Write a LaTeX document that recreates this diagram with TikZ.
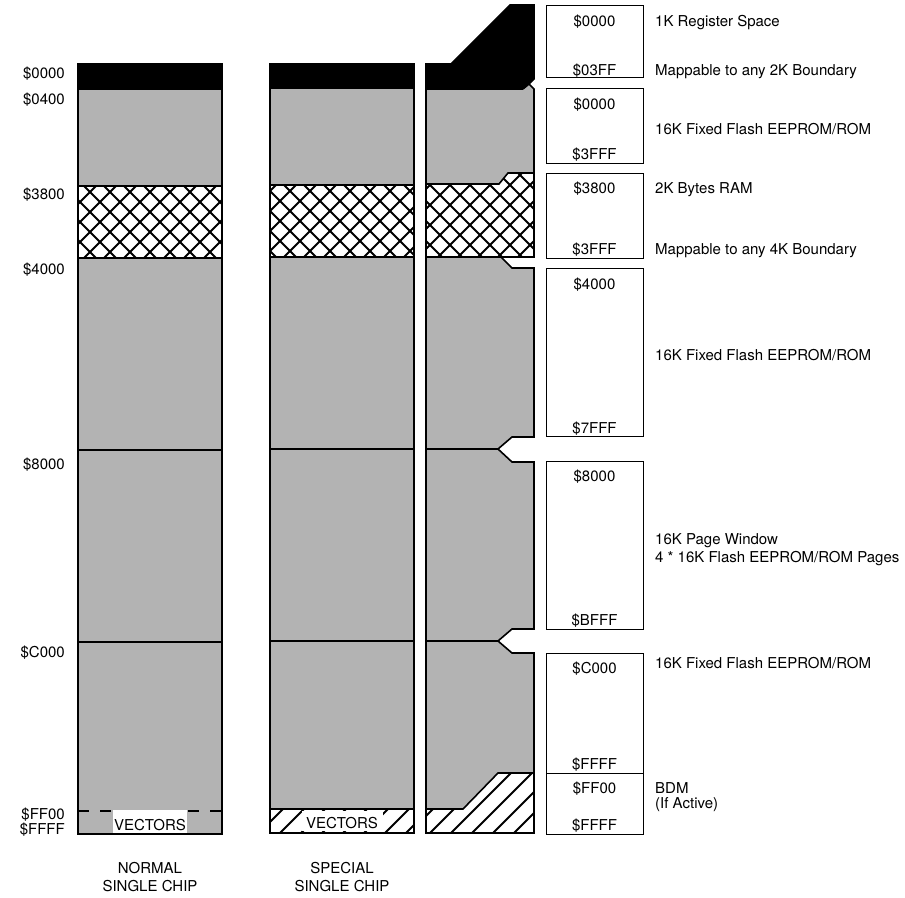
\documentclass[tikz,border=0pt]{standalone}
\usepackage{fontspec}
\setmainfont{TeX Gyre Heros}
\definecolor{memgray}{RGB}{179,179,179}
\newcommand\xhatchlines[1]{%
  \foreach \k in {40,60,...,620}{%
    \draw[hl] (\k-100,#1-100) -- (\k+100,#1+100);
    \draw[hl] (\k+100,#1-100) -- (\k-100,#1+100);}}
\newcommand\dhatchlines[1]{%
  \foreach \k in {40,61,...,640}{%
    \draw[hl] (\k+100,#1-100) -- (\k-100,#1+100);}}
\begin{document}
\begin{tikzpicture}[x=1pt,y=-1pt,
  font=\fontsize{15}{17}\selectfont,
  hl/.style={line width=1.9pt},
  sep/.style={line width=1.8pt},
  colborder/.style={line width=2.2pt},
  thinb/.style={line width=1.6pt, line join=miter},
  dashline/.style={line width=1.8pt, dash pattern=on 11pt off 11pt},
  lbl/.style={inner sep=0pt, anchor=base},
  lbll/.style={inner sep=0pt, anchor=base west},
  lblr/.style={inner sep=0pt, anchor=base east},
  membox/.style={draw, line width=1.4pt, minimum width=97pt, anchor=north west, inner sep=0pt}]
\useasboundingbox (0,0) rectangle (905,897);

% ---------------- Column 1: normal single chip
\fill[memgray] (78,64) rectangle (222,834);
\fill[black] (78,64) rectangle (222,90);
\begin{scope}
  \clip (78,186) rectangle (222,258);
  \fill[white] (78,186) rectangle (222,258);
  \xhatchlines{222}
\end{scope}
\draw[sep] (78,186) -- (222,186);
\draw[sep] (78,258) -- (222,258);
\draw[sep] (78,450) -- (222,450);
\draw[sep] (78,642) -- (222,642);
\draw[dashline] (78,811) -- (222,811);
\fill[white] (113,810) rectangle (187,834);
\node[lbl] (vec1) at (150,830) {VECTORS};
\draw[colborder] (78,64) rectangle (222,834);

% ---------------- Column 2: special single chip
\fill[memgray] (270,64) rectangle (414,833);
\fill[black] (270,64) rectangle (414,89);
\begin{scope}
  \clip (270,185) rectangle (414,257);
  \fill[white] (270,185) rectangle (414,257);
  \xhatchlines{221}
\end{scope}
\begin{scope}
  \clip (270,809) rectangle (414,833);
  \fill[white] (270,809) rectangle (414,833);
  \dhatchlines{821}
\end{scope}
\draw[sep] (270,185) -- (414,185);
\draw[sep] (270,257) -- (414,257);
\draw[sep] (270,449) -- (414,449);
\draw[sep] (270,641) -- (414,641);
\draw[sep] (270,809) -- (414,809);
\fill[white] (302,811) rectangle (383,831);
\node[lbl] (vec2) at (342,828) {VECTORS};
\draw[colborder] (270,64) rectangle (414,833);

% ---------------- Column 3: memory map detail
\fill[black] (426,64) -- (451,64) -- (510,5) -- (534,5) -- (534,79) -- (529,84)
  -- (523,89) -- (426,89) -- cycle;
\fill[memgray] (426,89) -- (523,89) -- (529,84) -- (534,90) -- (534,173) -- (508,173)
  -- (499,184) -- (426,184) -- cycle;
\begin{scope}
  \clip (426,184) -- (499,184) -- (508,173) -- (534,173) -- (534,257) -- (426,257) -- cycle;
  \fill[white] (426,170) rectangle (534,257);
  \xhatchlines{215}
\end{scope}
\fill[memgray] (426,257) -- (501,257) -- (512,268) -- (534,268) -- (534,437) -- (512,437)
  -- (498,449) -- (512,462) -- (534,462) -- (534,629) -- (512,629) -- (498,641)
  -- (512,653) -- (534,653) -- (534,773) -- (498,773) -- (463,809) -- (426,809) -- cycle;
\begin{scope}
  \clip (426,809) -- (463,809) -- (498,773) -- (534,773) -- (534,833) -- (426,833) -- cycle;
  \fill[white] (426,773) rectangle (534,833);
  \dhatchlines{803}
\end{scope}
% boundaries
\draw[thinb] (523,89) -- (426,89);
\draw[thinb] (426,184) -- (499,184) -- (508,173) -- (534,173);
\draw[thinb] (426,257) -- (534,257);
\draw[thinb] (426,449) -- (498,449);
\draw[thinb] (426,641) -- (498,641);
\draw[thinb] (426,809) -- (463,809) -- (498,773) -- (534,773);
\draw[thinb] (426,64) -- (451,64) -- (510,5) -- (534,5) -- (534,79) -- (529,84)
  -- (534,89) -- (534,257) -- (501,257) -- (512,268) -- (534,268) -- (534,437)
  -- (512,437) -- (498,449) -- (512,462) -- (534,462) -- (534,629) -- (512,629)
  -- (498,641) -- (512,653) -- (534,653) -- (534,833) -- (426,833) -- cycle;
\draw[thinb] (523,89) -- (529,84);

% ---------------- Right column boxes
\node[membox, minimum height=72pt]  (b1) at (546,5)   {};
\node[membox, minimum height=75pt]  (b2) at (546,88)  {};
\node[membox, minimum height=85pt]  (b3) at (546,173) {};
\node[membox, minimum height=168pt] (b4) at (546,268) {};
\node[membox, minimum height=168pt] (b5) at (546,461) {};
\node[membox, minimum height=120pt] (b6) at (546,653) {};
\node[membox, minimum height=61pt]  (b7) at (546,773) {};

\node[lbl] (t1a) at (594.5,26)  {\$0000};
\node[lbl] (t1b) at (594.5,75)  {\$03FF};
\node[lbl] (t2a) at (594.5,109) {\$0000};
\node[lbl] (t2b) at (594.5,159) {\$3FFF};
\node[lbl] (t3a) at (594.5,193) {\$3800};
\node[lbl] (t3b) at (594.5,254) {\$3FFF};
\node[lbl] (t4a) at (594.5,289) {\$4000};
\node[lbl] (t4b) at (594.5,433) {\$7FFF};
\node[lbl] (t5a) at (594.5,481) {\$8000};
\node[lbl] (t5b) at (594.5,625) {\$BFFF};
\node[lbl] (t6a) at (594.5,673) {\$C000};
\node[lbl] (t6b) at (594.5,769) {\$FFFF};
\node[lbl] (t7a) at (594.5,793) {\$FF00};
\node[lbl] (t7b) at (594.5,830) {\$FFFF};

% ---------------- Right descriptions
\node[lbll] (d1) at (655,26)  {1K Register Space};
\node[lbll] (d2) at (655,75)  {Mappable to any 2K Boundary};
\node[lbll] (d3) at (655,134) {16K Fixed Flash EEPROM/ROM};
\node[lbll] (d4) at (655,193) {2K Bytes RAM};
\node[lbll] (d5) at (655,254) {Mappable to any 4K Boundary};
\node[lbll] (d6) at (655,360) {16K Fixed Flash EEPROM/ROM};
\node[lbll] (d7) at (655,544) {16K Page Window};
\node[lbll] (d8) at (655,562) {4 * 16K Flash EEPROM/ROM Pages};
\node[lbll] (d9) at (655,668) {16K Fixed Flash EEPROM/ROM};
\node[lbll] (d10) at (655,793) {BDM};
\node[lbll] (d11) at (655,808) {(If Active)};

% ---------------- Left addresses
\node[lblr] (a1) at (65,78)  {\$0000};
\node[lblr] (a2) at (65,104) {\$0400};
\node[lblr] (a3) at (65,199) {\$3800};
\node[lblr] (a4) at (65,274) {\$4000};
\node[lblr] (a5) at (65,469) {\$8000};
\node[lblr] (a6) at (65,657) {\$C000};
\node[lblr] (a7) at (65,819.5) {\$FF00};
\node[lblr] (a8) at (65,834.5) {\$FFFF};

% ---------------- Bottom captions
\node[lbl] (c1a) at (150,873) {NORMAL};
\node[lbl] (c1b) at (150,891) {SINGLE CHIP};
\node[lbl] (c2a) at (342,873) {SPECIAL};
\node[lbl] (c2b) at (342,891) {SINGLE CHIP};
\end{tikzpicture}
\end{document}
